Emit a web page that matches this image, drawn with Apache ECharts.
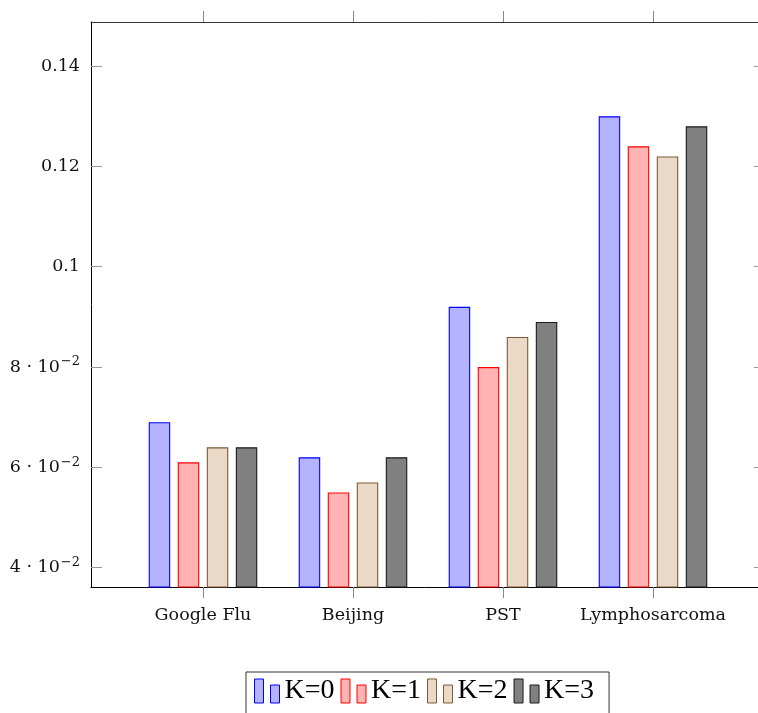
<!DOCTYPE html>
<html>
<head>
<meta charset="utf-8">
<script src="https://cdn.jsdelivr.net/npm/echarts@6/dist/echarts.min.js"></script>
<style>html,body{margin:0;padding:0;background:#fff}#c{width:758px;height:713px}</style>
</head>
<body>
<div id="c"></div>
<script>
const categories = ['Google Flu', 'Beijing', 'PST', 'Lymphosarcoma'];
const seriesNames = ['K=0', 'K=1', 'K=2', 'K=3'];
const k0 = [0.069, 0.062, 0.092, 0.130];
const k1 = [0.061, 0.055, 0.080, 0.124];
const k2 = [0.064, 0.057, 0.086, 0.122];
const k3 = [0.064, 0.062, 0.089, 0.128];
const yTicks = [0.04, 0.06, 0.08, 0.10, 0.12, 0.14];
const yTickLabels = ['4 · 10^-2', '6 · 10^-2', '8 · 10^-2', '0.1', '0.12', '0.14'];

const fills = ['#b3b3ff', '#ffb3b3', '#ead9c6', '#808080'];
const strokes = ['#0000ff', '#ff0000', '#7d5a3a', '#1a1a1a'];
const values = [k0, k1, k2, k3];
const FONT = 'DejaVu Serif';

const chart = echarts.init(document.getElementById('c'), null, {renderer: 'canvas'});
const xIdx = categories.map((c, i) => i);

function yLabel(v) {
  const i = yTicks.findIndex(t => Math.abs(t - v) < 1e-9);
  const s = i >= 0 ? yTickLabels[i] : '';
  if (s.indexOf('^') >= 0) {
    const [base, exp] = s.split('^');
    return '{n|' + base + '}{s|' + exp.replace('-', '−') + '}';
  }
  return '{n|' + s + '}';
}

const xAxisCommon = {
  type: 'value', min: -0.7467, max: 3.7467,
  splitLine: {show: false},
  axisTick: {show: true, inside: false, length: 11, customValues: xIdx, lineStyle: {color: '#888', width: 1}},
};
const yAxisCommon = {
  type: 'value', min: 0.03614, max: 0.1488,
  splitLine: {show: false},
  axisTick: {show: true, inside: true, length: 11, customValues: yTicks, lineStyle: {color: '#999', width: 1}},
};

chart.setOption({
  animation: false,
  backgroundColor: '#fff',
  grid: {left: 91, top: 22, width: 674, height: 565, containLabel: false, outerBoundsMode: 'none'},
  xAxis: [
    Object.assign({}, xAxisCommon, {
      position: 'bottom',
      axisLine: {show: true, onZero: false, lineStyle: {color: '#000', width: 1}},
      axisLabel: {show: true, customValues: xIdx, margin: 19, fontFamily: FONT, fontSize: 17.5, color: '#111',
        formatter: v => categories[Math.round(v)] || ''}
    }),
    Object.assign({}, xAxisCommon, {
      position: 'top',
      axisLine: {show: true, onZero: false, lineStyle: {color: '#333', width: 1}},
      axisLabel: {show: false}
    })
  ],
  yAxis: [
    Object.assign({}, yAxisCommon, {
      position: 'left',
      axisLine: {show: true, onZero: false, lineStyle: {color: '#000', width: 1}},
      axisLabel: {show: true, customValues: yTicks, margin: 11, formatter: yLabel,
        rich: {
          n: {fontFamily: FONT, fontSize: 17.5, color: '#111'},
          s: {fontFamily: FONT, fontSize: 13, color: '#111', padding: [0, 0, 10, 1]}
        }}
    }),
    Object.assign({}, yAxisCommon, {
      position: 'right',
      axisLine: {show: false, onZero: false, lineStyle: {color: '#000', width: 1}},
      axisLabel: {show: false}
    })
  ],
  legend: {
    left: 246, top: 672,
    orient: 'horizontal',
    itemWidth: 25, itemHeight: 24, itemGap: 6,
    padding: [5, 15, 20, 8],
    borderColor: '#333', borderWidth: 1,
    icon: 'path://M0,0H9V24H0Z M16,6H25V24H16Z',
    itemStyle: {borderWidth: 1},
    textStyle: {fontFamily: 'Liberation Serif', fontSize: 28, color: '#000'},
    data: seriesNames
  },
  series: seriesNames.map((name, s) => ({
    name: name,
    type: 'bar',
    xAxisIndex: 0, yAxisIndex: 0,
    barWidth: 21.5,
    barGap: '35%',
    data: values[s].map((v, i) => [xIdx[i], v]),
    itemStyle: {color: fills[s], borderColor: strokes[s], borderWidth: 1.1}
  }))
});
</script>
</body>
</html>
